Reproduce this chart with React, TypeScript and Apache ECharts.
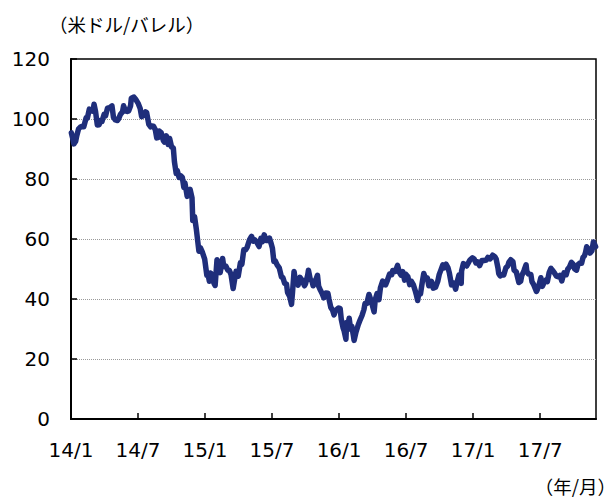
import React, { useEffect, useRef } from "react";
import * as echarts from "echarts";

// WTI crude oil price (USD/barrel)
const days2014 = [
  "01-02", "01-06", "01-09", "01-14", "01-17", "01-22", "01-28", "01-31",
  "02-05", "02-11", "02-14", "02-19", "02-24", "02-28", "03-03", "03-07",
  "03-12", "03-17", "03-20", "03-25", "03-31", "04-04", "04-09", "04-15",
  "04-21", "04-25", "04-30", "05-06", "05-09", "05-14", "05-20", "05-23",
  "05-28", "06-02", "06-06", "06-11", "06-13", "06-20", "06-25", "07-01",
  "07-07", "07-11", "07-16", "07-22", "07-25", "07-31", "08-05", "08-08",
  "08-13", "08-18", "08-22", "08-27", "08-29", "09-03", "09-09", "09-12",
  "09-17", "09-22", "09-26", "10-01", "10-06", "10-09", "10-14", "10-17",
  "10-22", "10-27", "10-31", "11-04", "11-07", "11-13", "11-17", "11-21",
  "11-26", "11-28", "12-03", "12-08", "12-11", "12-15", "12-19", "12-24", "12-31",
];
const prices2014 = [
  95.4, 93.4, 91.7, 92.6, 94.4, 96.7, 97.4, 97.5,
  97.4, 100.4, 100.3, 103.3, 102.8, 102.6, 104.9, 102.6,
  98.0, 98.1, 99.5, 99.2, 101.6, 101.1, 103.6, 103.8,
  104.4, 100.6, 99.7, 99.5, 100.0, 101.5, 102.4, 104.4,
  102.7, 102.5, 102.7, 104.4, 106.9, 107.3, 106.5, 105.3,
  103.5, 100.8, 101.2, 102.4, 102.1, 98.2, 97.4, 97.7,
  97.6, 96.4, 93.7, 93.9, 96.0, 95.5, 92.8, 92.3,
  94.4, 91.5, 93.5, 90.7, 90.3, 85.8, 81.8, 82.8,
  80.5, 81.0, 80.5, 77.2, 78.7, 74.2, 75.6, 76.5,
  73.7, 66.2, 67.4, 63.1, 60.0, 55.9, 57.1, 55.8, 53.3,
];

const days2015 = [
  "01-06", "01-09", "01-13", "01-16", "01-21", "01-26", "01-29", "02-03",
  "02-06", "02-11", "02-17", "02-20", "02-25", "03-02", "03-06", "03-11",
  "03-17", "03-20", "03-25", "03-31", "04-06", "04-10", "04-15", "04-20",
  "04-24", "04-30", "05-06", "05-11", "05-15", "05-20", "05-27", "06-01",
  "06-05", "06-10", "06-15", "06-19", "06-24", "06-29", "07-02", "07-06",
  "07-10", "07-15", "07-21", "07-27", "07-31", "08-05", "08-10", "08-13",
  "08-19", "08-24", "08-27", "08-31", "09-03", "09-08", "09-11", "09-16",
  "09-22", "09-28", "10-01", "10-07", "10-09", "10-14", "10-19", "10-22",
  "10-28", "11-03", "11-06", "11-11", "11-16", "11-20", "11-25", "12-01",
  "12-04", "12-09", "12-14", "12-18", "12-22", "12-28", "12-31",
];
const prices2015 = [
  47.9, 48.4, 45.9, 48.7, 47.8, 45.2, 44.5, 53.1,
  51.7, 48.8, 53.5, 50.8, 51.0, 49.6, 49.6, 48.2,
  43.5, 45.7, 49.2, 47.6, 52.1, 51.6, 56.4, 56.4,
  57.2, 59.6, 60.9, 59.3, 59.7, 59.0, 57.5, 60.2,
  59.1, 61.4, 59.5, 59.6, 60.3, 58.3, 56.9, 52.5,
  52.7, 51.4, 50.4, 47.4, 47.1, 45.2, 45.0, 42.2,
  40.8, 38.2, 42.6, 49.2, 46.8, 45.9, 44.6, 47.2,
  46.2, 44.4, 45.1, 48.0, 49.6, 46.6, 45.9, 44.4,
  45.9, 47.9, 44.3, 42.9, 41.7, 40.4, 42.0, 41.9,
  40.0, 37.2, 36.3, 34.7, 36.1, 36.8, 37.0,
];

const days2016 = [
  "01-04", "01-07", "01-12", "01-15", "01-20", "01-22", "01-27", "01-29",
  "02-02", "02-05", "02-09", "02-11", "02-16", "02-22", "02-26", "03-03",
  "03-08", "03-11", "03-16", "03-22", "03-28", "04-05", "04-08", "04-13",
  "04-18", "04-22", "04-28", "05-02", "05-06", "05-11", "05-17", "05-23",
  "05-26", "06-02", "06-08", "06-13", "06-17", "06-22", "06-27", "06-30",
  "07-06", "07-11", "07-15", "07-21", "07-26", "07-29", "08-02", "08-05",
  "08-10", "08-15", "08-19", "08-24", "08-29", "09-02", "09-07", "09-09",
  "09-14", "09-20", "09-26", "09-30", "10-05", "10-10", "10-14", "10-19",
  "10-24", "10-28", "11-03", "11-09", "11-14", "11-18", "11-23", "11-29",
  "11-30", "12-05", "12-09", "12-14", "12-19", "12-23", "12-30",
];
const prices2016 = [
  36.8, 33.3, 30.4, 29.4, 26.6, 32.2, 32.3, 33.6,
  29.9, 30.9, 27.9, 26.2, 29.0, 31.5, 32.8, 34.6,
  36.5, 38.5, 38.5, 41.5, 39.4, 35.7, 39.7, 41.8,
  39.8, 43.7, 46.0, 44.8, 44.7, 46.2, 48.3, 48.1,
  49.5, 49.2, 51.2, 48.9, 48.0, 49.1, 46.3, 48.3,
  47.4, 44.8, 46.0, 44.8, 42.9, 41.6, 39.5, 41.8,
  41.7, 45.7, 48.5, 46.8, 47.0, 44.4, 45.5, 45.9,
  43.6, 43.9, 45.9, 48.2, 49.8, 51.4, 50.4, 51.6,
  50.5, 48.7, 44.7, 45.3, 43.3, 45.7, 48.0, 45.2,
  49.4, 51.8, 51.5, 51.0, 52.1, 53.0, 53.7,
];

const days2017 = [
  "01-04", "01-09", "01-13", "01-19", "01-25", "01-31", "02-06", "02-10",
  "02-16", "02-22", "02-28", "03-03", "03-08", "03-10", "03-14", "03-20",
  "03-24", "03-30", "04-04", "04-07", "04-12", "04-18", "04-21", "04-27",
  "05-04", "05-09", "05-12", "05-18", "05-24", "05-26", "05-31", "06-06",
  "06-09", "06-14", "06-21", "06-23", "06-28", "07-03", "07-07", "07-12",
  "07-18", "07-21", "07-26", "07-31", "08-04", "08-10", "08-15", "08-21",
  "08-25", "08-30", "09-05", "09-11", "09-15", "09-20", "09-25", "09-29",
  "10-04", "10-09", "10-13", "10-18", "10-23", "10-27", "10-31", "11-03",
  "11-06", "11-10", "11-15", "11-20", "11-24", "11-28", "11-30",
];
const prices2017 = [
  53.3, 52.0, 52.4, 51.1, 52.8, 52.8, 53.0, 53.9,
  53.4, 54.6, 54.0, 53.3, 50.3, 48.5, 47.7, 48.2,
  48.0, 50.4, 51.0, 52.2, 53.1, 52.4, 49.6, 49.0,
  45.5, 45.9, 47.8, 49.4, 51.4, 49.2, 48.3, 48.2,
  45.8, 44.7, 42.5, 43.0, 44.7, 47.1, 44.2, 45.5,
  46.4, 45.8, 48.8, 50.2, 49.6, 48.6, 47.6, 47.4,
  47.9, 46.0, 48.7, 48.1, 49.9, 50.7, 52.2, 51.7,
  50.0, 49.6, 51.5, 52.0, 51.9, 53.9, 54.4, 55.6,
  57.4, 56.7, 55.3, 56.1, 59.0, 58.0, 57.4,
];

const xTickLabels = ["14/1", "14/7", "15/1", "15/7", "16/1", "16/7", "17/1", "17/7"];
const yAxisTitle = "（米ドル/バレル）";
const xAxisTitle = "（年/月）";

const years: [number, string[], number[]][] = [
  [2014, days2014, prices2014],
  [2015, days2015, prices2015],
  [2016, days2016, prices2016],
  [2017, days2017, prices2017],
];

// months elapsed since 2014-01-01
function toMonthIndex(year: number, md: string): number {
  const [m, d] = md.split("-").map(Number);
  const dim = new Date(year, m, 0).getDate();
  return (year - 2014) * 12 + (m - 1) + (d - 1) / dim;
}

const seriesData: [number, number][] = [];
years.forEach(([y, ds, ps]) => {
  ds.forEach((md, i) => seriesData.push([toMonthIndex(y, md), ps[i]]));
});

const FONT = "'DejaVu Sans', Verdana, sans-serif";
const CJK = "'Noto Sans CJK JP', 'Noto Sans', sans-serif";

export default function App() {
  const ref = useRef<HTMLDivElement>(null);
  useEffect(() => {
    if (!ref.current) return;
    const chart = echarts.init(ref.current, undefined, { renderer: "svg" });
    chart.setOption({
      animation: false,
      backgroundColor: "#fff",
      grid: {
        left: 71,
        right: 20,
        top: 59,
        bottom: 80,
        show: true,
        borderColor: "#000",
        borderWidth: 1.5,
        backgroundColor: "transparent",
      },
      xAxis: {
        type: "value",
        min: 0,
        max: 47,
        interval: 6,
        axisLine: { show: true, onZero: false, lineStyle: { color: "#000", width: 2 } },
        axisTick: { show: true, inside: true, length: 6, lineStyle: { color: "#000", width: 1.5 } },
        axisLabel: {
          margin: 21,
          fontSize: 20,
          fontFamily: FONT,
          color: "#000",
          showMaxLabel: false,
          formatter: (v: number) => {
            const k = Math.round(v);
            return k % 6 === 0 && Math.abs(v - k) < 1e-6 ? xTickLabels[k / 6] ?? "" : "";
          },
        },
        splitLine: { show: false },
      },
      yAxis: {
        type: "value",
        min: 0,
        max: 120,
        interval: 20,
        axisLine: { show: true, lineStyle: { color: "#000", width: 2 } },
        axisTick: { show: true, inside: true, length: 6, lineStyle: { color: "#000", width: 1.5 } },
        axisLabel: { margin: 21, fontSize: 20, fontFamily: FONT, color: "#000" },
        splitLine: {
          show: true,
          showMinLine: false,
          showMaxLine: false,
          lineStyle: { color: "#9a9a9a", type: "dotted", width: 1 },
        },
      },
      series: [
        {
          type: "line",
          data: seriesData,
          symbol: "none",
          showSymbol: false,
          lineStyle: { color: "#1f2e7b", width: 5.5, join: "round", cap: "round" },
          z: 3,
        },
      ],
      graphic: [
        {
          type: "text",
          left: 49,
          top: 15,
          style: { text: yAxisTitle, font: `18.5px ${CJK}`, fill: "#000" },
        },
        {
          type: "text",
          right: 0,
          top: 477,
          style: { text: xAxisTitle, font: `18.5px ${CJK}`, fill: "#000" },
        },
      ],
    });
    return () => chart.dispose();
  }, []);
  return (
    <div
      ref={ref}
      style={{ position: "absolute", left: 0, top: 0, width: 616, height: 499 }}
    />
  );
}
